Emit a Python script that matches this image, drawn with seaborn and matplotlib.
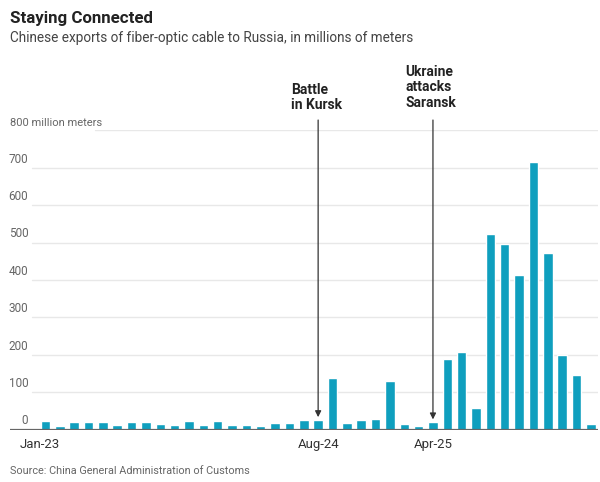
import pandas as pd
import matplotlib
matplotlib.use("Agg")
import matplotlib.pyplot as plt
import matplotlib.transforms as mtransforms
import seaborn as sns

# datos: exportaciones mensuales (millones de metros), ene-2023 a mar-2026
months = list(pd.date_range("2023-01-01", periods=39, freq="MS").strftime("%b-%y"))
values = [23, 9, 19, 21, 21, 12, 19, 20, 16, 13, 23, 13, 23,
          12, 12, 9, 17, 17, 25, 25, 139, 17, 25, 29, 131, 16, 9,
          19, 189, 207, 57, 523, 497, 413, 716, 473, 199, 146, 16]
tick_labels = ["Jan-23", "Aug-24", "Apr-25"]
y_ticks = [0, 100, 200, 300, 400, 500, 600, 700, 800]
events = ["Battle\nin Kursk", "Ukraine\nattacks\nSaransk"]
event_months = ["Aug-24", "Apr-25"]

df = pd.DataFrame({"month": months, "value": values})

sns.set_style("white")
plt.rcParams["font.family"] = ["Roboto", "DejaVu Sans"]

W, H = 600, 482
fig = plt.figure(figsize=(W / 100, H / 100), dpi=100)
ax = fig.add_axes([10 / W, 52.5 / H, 588 / W, 299 / H])

sns.barplot(data=df, x="month", y="value", color="#0f9fbe", width=0.66,
            saturation=1, ax=ax)

ax.set_xlim(-2.47, 38.5)
ax.set_ylim(0, 800)
for s in ax.spines.values():
    s.set_visible(False)
ax.set_xlabel("")
ax.set_ylabel("")
ax.set_yticks([])

# cuadricula y etiquetas del eje y
trans = mtransforms.blended_transform_factory(ax.transAxes, ax.transData)
for v in y_ticks[1:]:
    start = 0.1446 if v == 800 else 0.0374
    ax.axhline(v, xmin=start, xmax=1, color="#e8e8e8", lw=1, zorder=0)
for v in y_ticks:
    if v == 800:
        ax.text(0, v + 6, "800 million meters", transform=trans, ha="left",
                va="bottom", fontsize=8, color="#666666")
    else:
        ax.text(0.031, v + 6, str(v), transform=trans, ha="right",
                va="bottom", fontsize=8.5, color="#666666")
ax.axhline(0, color="#666666", lw=1.6, zorder=3)

# eje x
pos = [months.index(t) for t in tick_labels]
ax.set_xticks(pos)
ax.set_xticklabels(tick_labels, fontsize=9.5, color="#333333")
ax.tick_params(axis="x", length=0, pad=6)
first = ax.get_xticklabels()[0]
first.set_transform(first.get_transform() +
                    mtransforms.ScaledTranslation(-6 / 100, 0, fig.dpi_scale_trans))

# anotaciones
for m in event_months:
    i = months.index(m)
    ax.annotate("", xy=(i, values[i] + 8), xytext=(i, 828),
                arrowprops=dict(arrowstyle="-|>", color="#333333", lw=0.9,
                                mutation_scale=9, shrinkA=0, shrinkB=0),
                annotation_clip=False)
ax.text(17.1, 928, events[0], ha="left", va="top", fontsize=10,
        fontweight="bold", color="#222222", linespacing=1.15)
ax.text(25.1, 976, events[1], ha="left", va="top", fontsize=10,
        fontweight="bold", color="#222222", linespacing=1.15)

# titulo, subtitulo y fuente
fig.text(10 / W, 1 - 23 / H, "Staying Connected", fontsize=12.2,
         fontweight="bold", color="#222222", va="baseline")
fig.text(10 / W, 1 - 42 / H,
         "Chinese exports of fiber-optic cable to Russia, in millions of meters",
         fontsize=9.8, color="#444444", va="baseline")
fig.text(10 / W, 1 - 474 / H, "Source: China General Administration of Customs",
         fontsize=7.8, color="#666666", va="baseline")

fig.savefig("out.png", dpi=100)
